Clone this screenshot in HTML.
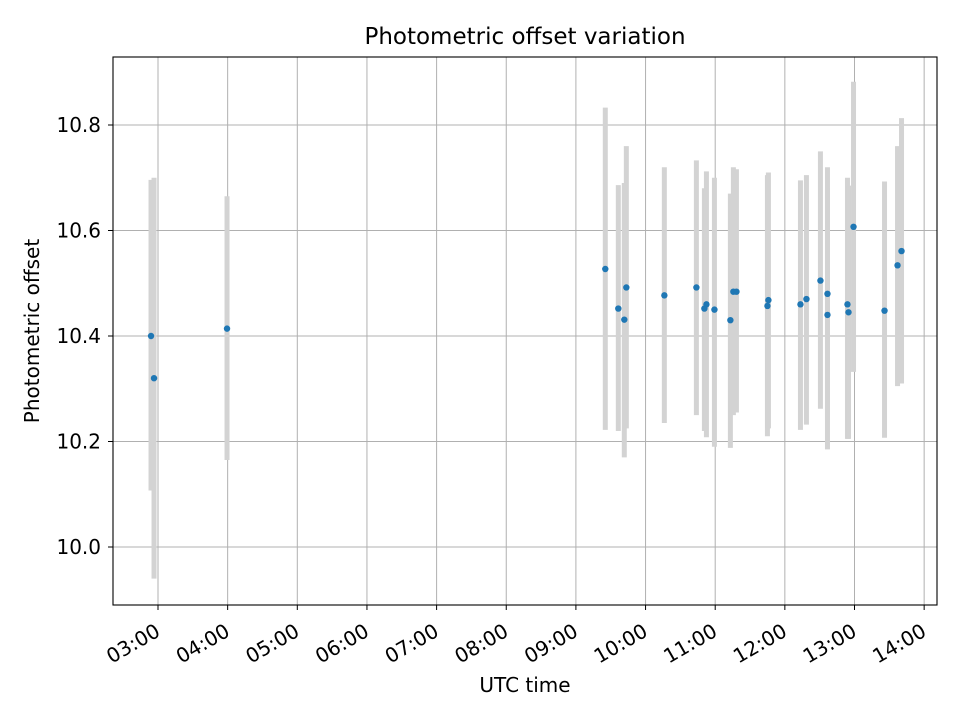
<!DOCTYPE html>
<html><head><meta charset="utf-8"><style>
body{margin:0;background:#fff}
svg{display:block;font-family:"DejaVu Sans","Liberation Sans",sans-serif}
</style></head><body>
<svg id="chart" width="960" height="720"></svg>
<script>
const times=[2.90,2.943,3.991,9.422,9.609,9.695,9.724,10.270,10.730,10.845,10.874,10.989,11.218,11.261,11.305,11.750,11.764,12.224,12.310,12.511,12.612,12.612,12.899,12.914,12.986,13.431,13.618,13.675];
const values=[10.40,10.32,10.414,10.527,10.452,10.431,10.492,10.477,10.492,10.452,10.46,10.45,10.43,10.484,10.484,10.457,10.468,10.46,10.47,10.505,10.48,10.44,10.46,10.445,10.607,10.448,10.534,10.561];
const highs=[10.696,10.70,10.665,10.833,10.686,10.69,10.76,10.72,10.733,10.68,10.712,10.70,10.67,10.72,10.716,10.705,10.71,10.695,10.705,10.75,10.72,10.68,10.70,10.685,10.882,10.693,10.76,10.813];
const lows=[10.107,9.94,10.165,10.222,10.22,10.17,10.225,10.235,10.25,10.22,10.208,10.19,10.188,10.25,10.255,10.21,10.225,10.222,10.232,10.262,10.185,10.24,10.205,10.205,10.332,10.207,10.305,10.31];
const xTickHours=[3,4,5,6,7,8,9,10,11,12,13,14];
const xTickLabels=["03:00","04:00","05:00","06:00","07:00","08:00","09:00","10:00","11:00","12:00","13:00","14:00"];
const yTicks=[10.0,10.2,10.4,10.6,10.8];
const yTickLabels=["10.0","10.2","10.4","10.6","10.8"];

const L=113,R=937,T=57,B=605;
const xs=h=>158+(h-3)*69.65;
const ys=v=>125+(10.8-v)*527.5;
const svg=document.getElementById('chart');
const NS='http://www.w3.org/2000/svg';
function mk(tag,attrs,parent){const e=document.createElementNS(NS,tag);for(const k in attrs)e.setAttribute(k,attrs[k]);(parent||svg).appendChild(e);return e;}

const grid=mk('g',{});


xTickHours.forEach(h=>{mk('line',{x1:xs(h),x2:xs(h),y1:T,y2:B,stroke:'#b0b0b0','stroke-width':1},grid);});
yTicks.forEach(v=>{mk('line',{x1:L,x2:R,y1:ys(v),y2:ys(v),stroke:'#b0b0b0','stroke-width':1},grid);});

const ebs=mk('g',{});


times.forEach((t,i)=>{const l=mk('line',{x1:xs(t),x2:xs(t),y1:ys(highs[i]),y2:ys(lows[i]),stroke:'#d3d3d3','stroke-width':5},ebs);

});

const pts=mk('g',{});


times.forEach((t,i)=>{const c=mk('circle',{cx:xs(t),cy:ys(values[i]),r:3.2,fill:'#1f77b4'},pts);

});

const frame=mk('rect',{x:L,y:T,width:R-L,height:B-T,fill:'none',stroke:'#000','stroke-width':1.1});



const xa=mk('g',{});


xTickHours.forEach((h,i)=>{const x=xs(h);
mk('line',{x1:x,x2:x,y1:B,y2:B+5,stroke:'#000','stroke-width':1},xa);
const ax=x+3.5, ay=B+30;
const t=mk('text',{x:ax,y:ay,'font-size':20,'text-anchor':'end',transform:`rotate(-30 ${ax} ${ay})`},xa);
t.textContent=xTickLabels[i];

});

const ya=mk('g',{});


yTicks.forEach((v,i)=>{const y=ys(v);
mk('line',{x1:L-5,x2:L,y1:y,y2:y,stroke:'#000','stroke-width':1},ya);
const t=mk('text',{x:L-12,y:y+7,'font-size':20,'text-anchor':'end'},ya);
t.textContent=yTickLabels[i];

});

const title=mk('text',{x:525,y:44,'font-size':23,'text-anchor':'middle'});
title.textContent='Photometric offset variation';


const xt=mk('text',{x:525,y:692,'font-size':20,'text-anchor':'middle'});
xt.textContent='UTC time';


const yt=mk('text',{x:39,y:331,'font-size':20,'text-anchor':'middle',transform:'rotate(-90 39 331)'});
yt.textContent='Photometric offset';


</script>
</body></html>
